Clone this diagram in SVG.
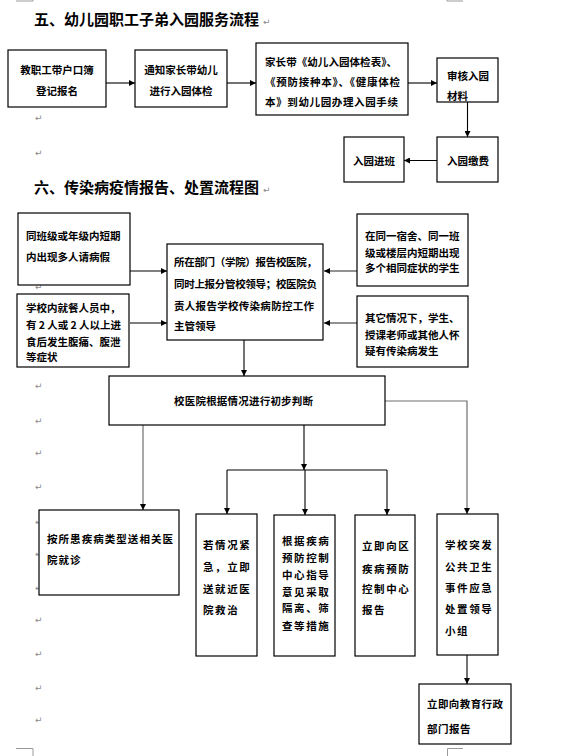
<svg xmlns="http://www.w3.org/2000/svg" width="562" height="756" viewBox="0 0 562 756">
<style>
.bg{fill:#fff}
.box{fill:#fff;stroke:#000;stroke-width:1.2}
.t{font-family:"Noto Sans CJK SC","Noto Sans",sans-serif;font-size:10.5px;font-weight:bold;fill:#000}
.sp{letter-spacing:1.6px}
.h{font-family:"Noto Sans CJK SC","Noto Sans",sans-serif;font-size:15px;font-weight:bold;fill:#000}
.pm{font-family:"DejaVu Sans",sans-serif;font-size:9px;fill:#8a8a8a}
.c{fill:none;stroke:#000;stroke-width:1.1}
.g{fill:none;stroke:#6e6e6e;stroke-width:1.5}
.crop{fill:none;stroke:#9a9a9a;stroke-width:1}
</style>
<defs>
<marker id="ah" viewBox="0 0 10 10" refX="10" refY="5" markerWidth="6" markerHeight="6" markerUnits="userSpaceOnUse" orient="auto">
<path d="M0,0 L10,5 L0,10 z" fill="#000"/>
</marker>
</defs>
<rect class="bg" x="0" y="0" width="562" height="756"/>
<g id="cropmarks">
<path class="crop" d="M16,1 H33 V0 M447,1 H463 M447,0 V1 M16,748.5 H33 V756 M463,748.5 H447.5 V756"/>
</g>
<g id="para-marks">
<text class="pm" x="35" y="121">↵</text>
<text class="pm" x="35" y="156">↵</text>
<text class="pm" x="35" y="290">↵</text>
<text class="pm" x="35" y="389">↵</text>
<text class="pm" x="35" y="424">↵</text>
<text class="pm" x="35" y="456">↵</text>
<text class="pm" x="35" y="490">↵</text>
<text class="pm" x="35" y="525">↵</text>
<text class="pm" x="35" y="557">↵</text>
<text class="pm" x="35" y="591">↵</text>
<text class="pm" x="35" y="623">↵</text>
<text class="pm" x="35" y="657">↵</text>
<text class="pm" x="35" y="691">↵</text>
<text class="pm" x="35" y="723">↵</text>
</g>
<g id="title1"><text class="h" x="34" y="25">五、幼儿园职工子弟入园服务流程</text><text class="pm" x="263" y="25">↵</text></g>
<g id="title2"><text class="h" x="34" y="193">六、传染病疫情报告、处置流程图</text><text class="pm" x="263" y="193">↵</text></g>

<g id="connectors">
<path class="c" d="M106,83 H135" marker-end="url(#ah)"/>
<path class="c" d="M227,83 H256" marker-end="url(#ah)"/>
<path class="c" d="M408,83 H437" marker-end="url(#ah)"/>
<path class="c" d="M467.5,102 V137" marker-end="url(#ah)"/>
<path class="c" d="M437,160.5 H404" marker-end="url(#ah)"/>
<path class="c" d="M130,271 H167" marker-end="url(#ah)"/>
<path class="c" d="M130,323 H167" marker-end="url(#ah)"/>
<path class="g" d="M357,271 H324" marker-end="url(#ah)"/>
<path class="g" d="M357,323 H324" marker-end="url(#ah)"/>
<path class="c" d="M244,340 V376" marker-end="url(#ah)"/>
<path class="g" style="stroke-width:1.2" d="M143,425 V510" marker-end="url(#ah)"/>
<path class="c" d="M304,425 V470" marker-end="url(#ah)"/>
<path class="c" d="M227,470 H387"/>
<path class="c" d="M227,470 V514" marker-end="url(#ah)"/>
<path class="c" d="M305,470 V515" marker-end="url(#ah)"/>
<path class="c" d="M387,470 V515" marker-end="url(#ah)"/>
<path class="g" style="stroke-width:1.2" d="M385,401 H467 V514" marker-end="url(#ah)"/>
<path class="c" d="M467,655 V684" marker-end="url(#ah)"/>
</g>

<g id="n1"><rect class="box" x="8" y="50" width="98" height="57"/>
<text class="t" x="57" y="74" text-anchor="middle">教职工带户口簿</text>
<text class="t" x="57" y="95" text-anchor="middle">登记报名</text></g>
<g id="n2"><rect class="box" x="135" y="50" width="92" height="57"/>
<text class="t" x="181" y="74" text-anchor="middle">通知家长带幼儿</text>
<text class="t" x="181" y="95" text-anchor="middle">进行入园体检</text></g>
<g id="n3"><rect class="box" x="256" y="43" width="152" height="72"/>
<text class="t" x="265" y="66" textLength="132">家长带《幼儿入园体检表》、</text>
<text class="t" x="265" y="86" textLength="135">《预防接种本》、《健康体检</text>
<text class="t" x="265" y="106" textLength="133">本》到幼儿园办理入园手续</text></g>
<g id="n4"><rect class="box" x="437" y="58" width="61" height="44"/>
<text class="t" x="447" y="80">审核入园</text>
<text class="t" x="447" y="100">材料</text></g>
<g id="n5"><rect class="box" x="437" y="137" width="61" height="45"/>
<text class="t" x="447" y="165">入园缴费</text></g>
<g id="n6"><rect class="box" x="344" y="137" width="60" height="45"/>
<text class="t" x="353" y="165">入园进班</text></g>

<g id="nA"><rect class="box" x="18" y="213" width="112" height="72"/>
<text class="t" x="26" y="240">同班级或年级内短期</text>
<text class="t" x="26" y="261">内出现多人请病假</text></g>
<g id="nB"><rect class="box" x="17" y="294" width="112" height="73"/>
<text class="t" x="26" y="312">学校内就餐人员中，</text>
<text class="t" x="26" y="329" textLength="95">有 2 人或 2 人以上进</text>
<text class="t" x="26" y="346">食后发生腹痛、腹泄</text>
<text class="t" x="26" y="361">等症状</text></g>
<g id="nC"><rect class="box" x="167" y="244" width="156" height="96"/>
<text class="t" x="174" y="266" textLength="143">所在部门（学院）报告校医院，</text>
<text class="t" x="174" y="288" textLength="143">同时上报分管校领导；校医院负</text>
<text class="t" x="174" y="310" textLength="140">责人报告学校传染病防控工作</text>
<text class="t" x="174" y="330">主管领导</text></g>
<g id="nD"><rect class="box" x="357" y="214" width="111" height="72"/>
<text class="t" x="365" y="240">在同一宿舍、同一班</text>
<text class="t" x="365" y="257">级或楼层内短期出现</text>
<text class="t" x="365" y="272">多个相同症状的学生</text></g>
<g id="nE"><rect class="box" x="357" y="296" width="111" height="71"/>
<text class="t" x="365" y="322">其它情况下，学生、</text>
<text class="t" x="365" y="339">授课老师或其他人怀</text>
<text class="t" x="365" y="355">疑有传染病发生</text></g>
<g id="nF"><rect class="box" x="109" y="376" width="276" height="49"/>
<text class="t" x="174" y="405" textLength="139">校医院根据情况进行初步判断</text></g>
<g id="nG"><rect class="box" x="39" y="510" width="140" height="85"/>
<text class="t" x="47" y="543" textLength="126">按所患疾病类型送相关医</text>
<text class="t" x="47" y="564" style="letter-spacing:1px">院就诊</text></g>
<g id="nH"><rect class="box" x="196" y="514" width="61" height="142"/>
<text class="t sp" x="203" y="549">若情况紧</text>
<text class="t sp" x="203" y="571">急，立即</text>
<text class="t sp" x="203" y="593">送就近医</text>
<text class="t sp" x="203" y="614">院救治</text></g>
<g id="nI"><rect class="box" x="274" y="515" width="61" height="141"/>
<text class="t sp" x="282" y="545">根据疾病</text>
<text class="t sp" x="282" y="562">预防控制</text>
<text class="t sp" x="282" y="579">中心指导</text>
<text class="t sp" x="282" y="596">意见采取</text>
<text class="t sp" x="282" y="612">隔离、筛</text>
<text class="t sp" x="282" y="630">查等措施</text></g>
<g id="nJ"><rect class="box" x="355" y="515" width="60" height="141"/>
<text class="t sp" x="362" y="550">立即向区</text>
<text class="t sp" x="362" y="573">疾病预防</text>
<text class="t sp" x="362" y="593">控制中心</text>
<text class="t sp" x="362" y="614">报告</text></g>
<g id="nK"><rect class="box" x="437" y="514" width="61" height="141"/>
<text class="t sp" x="445" y="549">学校突发</text>
<text class="t sp" x="445" y="571">公共卫生</text>
<text class="t sp" x="445" y="592">事件应急</text>
<text class="t sp" x="445" y="613">处置领导</text>
<text class="t sp" x="445" y="635">小组</text></g>
<g id="nL"><rect class="box" x="419" y="684" width="92" height="60"/>
<text class="t" x="427" y="708" textLength="76">立即向教育行政</text>
<text class="t" x="427" y="733" style="letter-spacing:0.5px">部门报告</text></g>
</svg>
